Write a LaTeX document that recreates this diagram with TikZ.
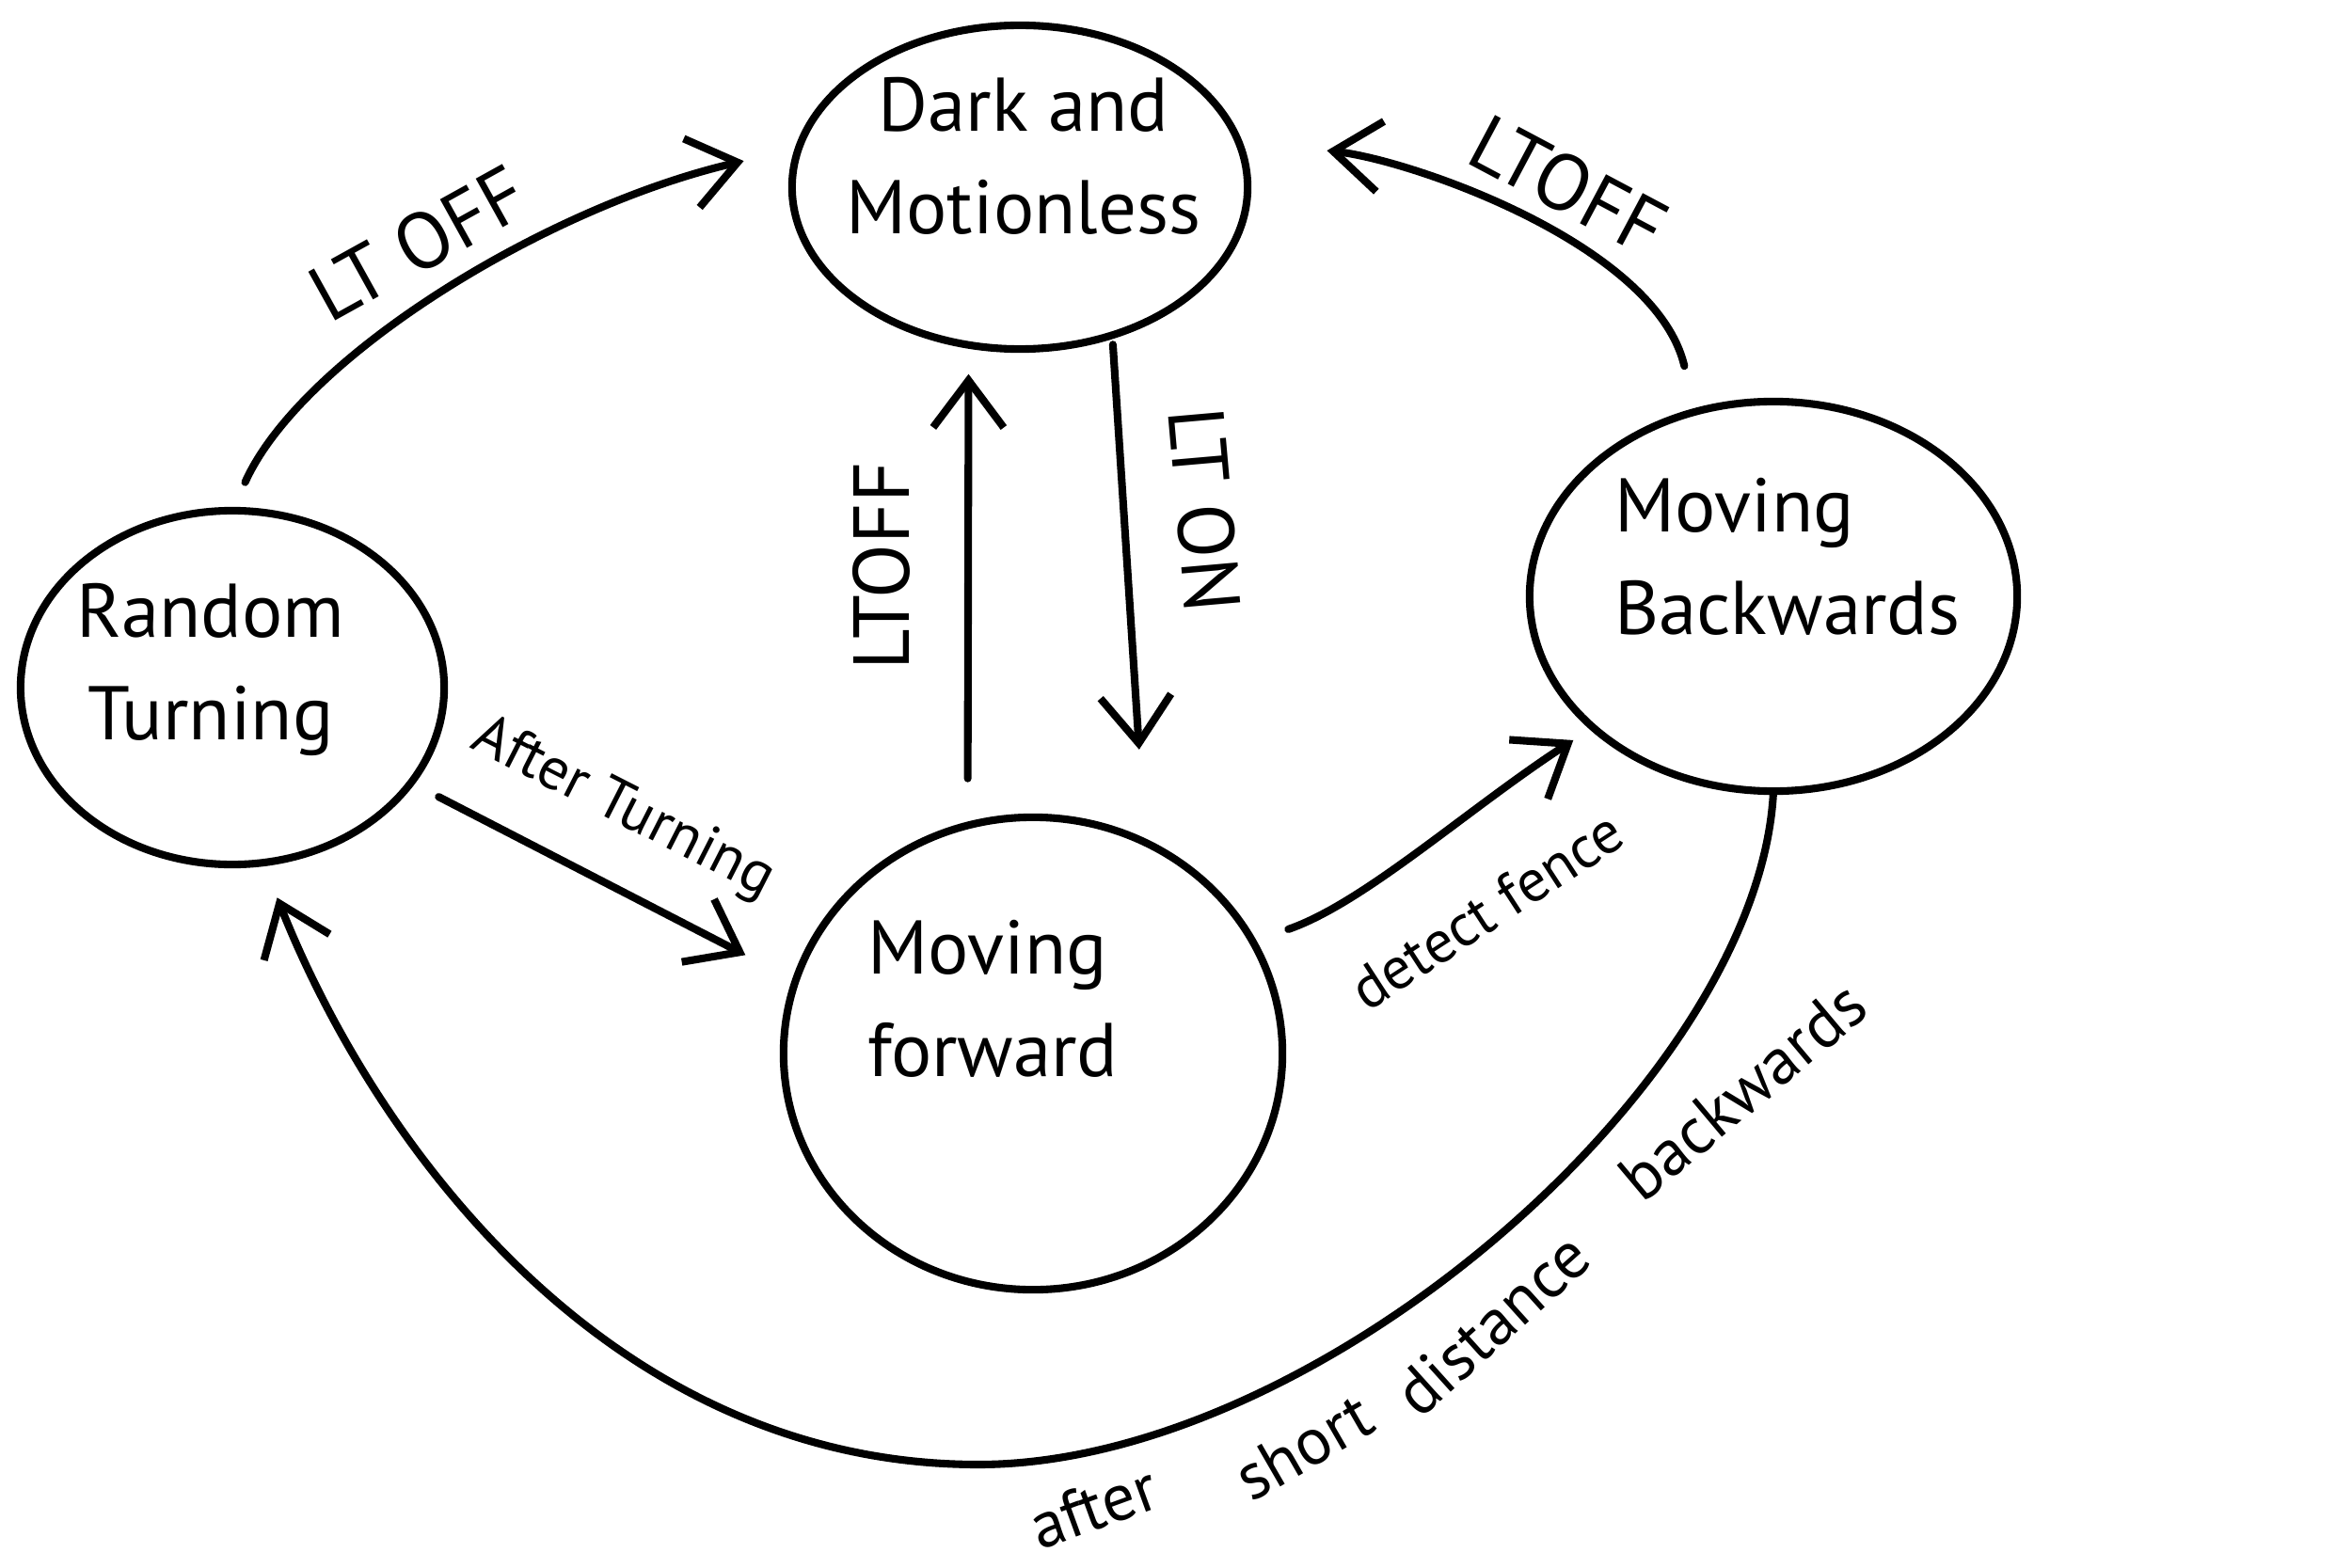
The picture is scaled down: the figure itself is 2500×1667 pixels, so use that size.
\documentclass[tikz,border=0pt]{standalone}
\usepackage{fontspec}
\setmainfont{PT Sans}
\usetikzlibrary{shapes.geometric,arrows.meta}
\begin{document}
\begin{tikzpicture}[x=0.01cm,y=-0.01cm,
  line width=2.3pt, line cap=round, line join=round,
  stnode/.style={ellipse, draw, inner sep=0pt, outer sep=0pt},
  statetext/.style={font=\fontsize{23pt}{31pt}\selectfont, inner sep=0pt},
  lbl/.style={font=\fontsize{24pt}{28pt}\selectfont, inner sep=0pt},
  sml/.style={font=\fontsize{18pt}{22pt}\selectfont, inner sep=0pt},
  bw/.style={font=\fontsize{20pt}{24pt}\selectfont, inner sep=0pt},
  arr/.style={-{Straight Barb[length=0.5cm,width=0.75cm]}}
]
\fill[white] (0,0) rectangle (2500,1667);
\useasboundingbox (0,0) rectangle (2500,1667);

% states
\node[stnode, minimum width=4.84cm, minimum height=3.44cm] (dark) at (1084,199) {};
\node[stnode, minimum width=4.5cm, minimum height=3.76cm] (rand) at (247,731) {};
\node[stnode, minimum width=5.3cm, minimum height=5.02cm] (fwd) at (1098,1120) {};
\node[stnode, minimum width=5.18cm, minimum height=4.14cm] (back) at (1885,634) {};

\node[statetext, align=center] (darkt) at (1088,166) {Dark and\\Motionless};
\node[statetext, align=center] (randt) at (224,712) {Random\\Turning};
\node[statetext, align=left, anchor=west] (fwdt) at (918,1062) {Moving\\forward};
\node[statetext, align=left, anchor=west] (backt) at (1712,592) {Moving\\Backwards};

% transitions
\draw[arr, shorten <=0.33cm, shorten >=0.6cm] (rand.north) .. controls (320,380) and (580,220) .. (dark.170);
\draw[arr, shorten <=0.5cm, shorten >=0.95cm] (back.113) .. controls (1760,260) and (1500,170) .. (dark.12);
\draw[arr, shorten <=0.5cm, shorten >=0.31cm] (fwd.106) -- (dark.252);
\draw[arr, shorten <=0.1cm, shorten >=0.99cm] (dark.-58) -- (fwd.62);
\draw[arr, shorten <=0.33cm, shorten >=0.6cm] (rand.-28) -- (fwd.163);
\draw[arr, shorten <=0.4cm, shorten >=0.25cm] (fwd.27) .. controls (1450,960) and (1560,860) .. (back.216);
\coordinate (low) at (1040,1557);
\draw[arr, shorten >=0.4cm] (back.south) .. controls (1870,1150) and (1400,1557) .. (low) .. controls (650,1557) and (400,1220) .. (rand.-80);

% labels
\node[lbl, rotate=29] (l1) at (444,259) {LT OFF};
\node[lbl, rotate=-28] (l2) at (1667,197) {LTOFF};
\node[lbl, rotate=90] (l3) at (937,602) {LTOFF};
\node[lbl, rotate=-85] (l4) at (1280,542) {LT ON};
\node[sml, rotate=-27] (l5) at (662,860) {After Turning};
\node[sml, rotate=33] (l6) at (1580,968) {detect fence};
\node[bw, rotate=20] (l7a) at (1162,1602) {after};
\node[bw, rotate=30] (l7b) at (1386,1538) {short};
\node[bw, rotate=42] (l7c) at (1586,1408) {distance};
\node[bw, rotate=40] (l7d) at (1852,1160) {backwards};
\end{tikzpicture}
\end{document}
